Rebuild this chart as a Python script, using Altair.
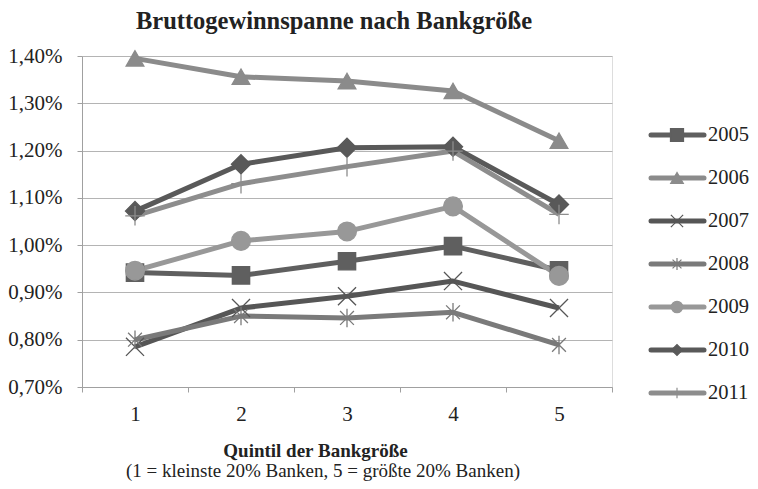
import altair as alt
import pandas as pd

# ---- data ----
quintiles = [1, 2, 3, 4, 5]
years = ["2005", "2006", "2007", "2008", "2009", "2010", "2011"]
v2005 = [0.942, 0.936, 0.966, 0.998, 0.947]
v2006 = [1.395, 1.356, 1.347, 1.326, 1.221]
v2007 = [0.785, 0.867, 0.892, 0.924, 0.867]
v2008 = [0.800, 0.850, 0.846, 0.858, 0.789]
v2009 = [0.946, 1.009, 1.029, 1.082, 0.935]
v2010 = [1.072, 1.171, 1.206, 1.208, 1.086]
v2011 = [1.062, 1.130, 1.166, 1.199, 1.065]
series = [v2005, v2006, v2007, v2008, v2009, v2010, v2011]
y_ticks = [0.7, 0.8, 0.9, 1.0, 1.1, 1.2, 1.3, 1.4]
x_ticks = [0.5, 1, 1.5, 2, 2.5, 3, 3.5, 4, 4.5, 5, 5.5]

title_text = "Bruttogewinnspanne nach Bankgröße"
x_title = "Quintil der Bankgröße"
x_subtitle = "(1 = kleinste 20% Banken, 5 = größte 20% Banken)"

# ---- styles ----
FONT = "Liberation Serif"
colors = ["#5f5f5f", "#8b8b8b", "#565656", "#7a7a7a", "#989898", "#595959", "#8d8d8d"]
X_PATH = "M-1,-1L1,1M-1,1L1,-1"
AST_PATH = "M-0.75,-0.75L0.75,0.75M-0.75,0.75L0.75,-0.75M0,-1L0,1"
PLUS_PATH = "M-1,0L1,0M0,-1L0,1"
shapes = ["square", "triangle-up", X_PATH, AST_PATH, "circle", "diamond", PLUS_PATH]
sizes_main = [300, 380, 520, 400, 300, 330, 500]
sizes_leg = [170, 110, 80, 80, 150, 80, 110]

rows = []
for yr, vals in zip(years, series):
    for q, v in zip(quintiles, vals):
        rows.append({"year": yr, "q": q, "v": v})
df = pd.DataFrame(rows)
leg_df = pd.DataFrame({"year": years})

W, H = 530, 331

color_scale = alt.Scale(domain=years, range=colors)
shape_scale = alt.Scale(domain=years, range=shapes)

x_enc = alt.X(
    "q:Q",
    scale=alt.Scale(domain=[0.5, 5.5], nice=False, zero=False),
    axis=alt.Axis(
        values=x_ticks,
        title=x_title,
        titleFont=FONT, titleFontSize=19, titleFontWeight="bold", titleColor="#222",
        titleX=233, titleY=69, titleBaseline="alphabetic", titleAnchor="middle",
        labelExpr="datum.value % 1 == 0 ? format(datum.value, 'd') : ''",
        labelFont=FONT, labelFontSize=21, labelColor="#222", labelPadding=11,
        tickSize=5, tickColor="#a0a0a0",
        tickOpacity=alt.condition("datum.value % 1 == 0", alt.value(0), alt.value(1)),
        domainColor="#a0a0a0", grid=False,
    ),
)
y_enc = alt.Y(
    "v:Q",
    scale=alt.Scale(domain=[0.7, 1.4], nice=False, zero=False),
    axis=alt.Axis(
        values=y_ticks, title=None,
        labelExpr="replace(format(datum.value, '.2f'), '.', ',') + '%'",
        labelFont=FONT, labelFontSize=21, labelColor="#222", labelPadding=15,
        tickSize=5, tickColor="#a0a0a0", domainColor="#a0a0a0",
        grid=True, gridColor="#b4b4b4", gridWidth=1,
    ),
)

lines = alt.Chart(df).mark_line(strokeWidth=5, strokeJoin="round").encode(
    x=x_enc, y=y_enc,
    color=alt.Color("year:N", scale=color_scale, legend=None),
    detail="year:N",
)
points = alt.Chart(df).mark_point(filled=True, strokeWidth=1.3, opacity=1).encode(
    x="q:Q", y="v:Q",
    fill=alt.Fill("year:N", scale=color_scale, legend=None),
    stroke=alt.Stroke("year:N", scale=color_scale, legend=None),
    shape=alt.Shape("year:N", scale=shape_scale, legend=None),
    size=alt.Size("year:N", scale=alt.Scale(domain=years, range=sizes_main), legend=None),
)
main = alt.layer(lines, points)

leg_y = alt.Y("year:O", scale=alt.Scale(type="point", domain=years, range=[79, 337], padding=0), axis=None)
leg_rule = alt.Chart(leg_df).mark_rule(strokeWidth=5, strokeCap="round").encode(
    x=alt.value(569), x2=alt.value(622), y=leg_y,
    color=alt.Color("year:N", scale=color_scale, legend=None),
)
leg_pt = alt.Chart(leg_df).mark_point(filled=True, strokeWidth=1.2, opacity=1).encode(
    x=alt.value(595), y=leg_y,
    fill=alt.Fill("year:N", scale=color_scale, legend=None),
    stroke=alt.Stroke("year:N", scale=color_scale, legend=None),
    shape=alt.Shape("year:N", scale=shape_scale, legend=None),
    size=alt.Size("year:N", scale=alt.Scale(domain=years, range=sizes_leg), legend=None),
)
leg_txt = alt.Chart(leg_df).mark_text(
    align="left", baseline="middle", font=FONT, fontSize=20.5, color="#222"
).encode(x=alt.value(626), y=leg_y, text="year:N")
legend = alt.layer(leg_rule, leg_pt, leg_txt)

title_df = pd.DataFrame({"t": [title_text]})
title_mark = alt.Chart(title_df).mark_text(
    align="center", baseline="alphabetic", font=FONT, fontSize=24.5, fontWeight="bold", color="#222"
).encode(x=alt.value(252), y=alt.value(-27), text="t:N")

sub_df = pd.DataFrame({"t": [x_subtitle]})
sub_mark = alt.Chart(sub_df).mark_text(
    align="center", baseline="alphabetic", font=FONT, fontSize=19, color="#222"
).encode(x=alt.value(241), y=alt.value(420.5), text="t:N")

chart = alt.layer(main, legend, title_mark, sub_mark).resolve_scale(
    y="independent", size="independent"
).properties(
    width=W, height=H,
    autosize=alt.AutoSizeParams(type="none"),
    padding={"left": 74, "top": 48, "right": 138, "bottom": 94},
).configure_view(stroke=None).configure(background="white")

chart.save("out.html", embed_options={"renderer": "svg", "actions": False})
